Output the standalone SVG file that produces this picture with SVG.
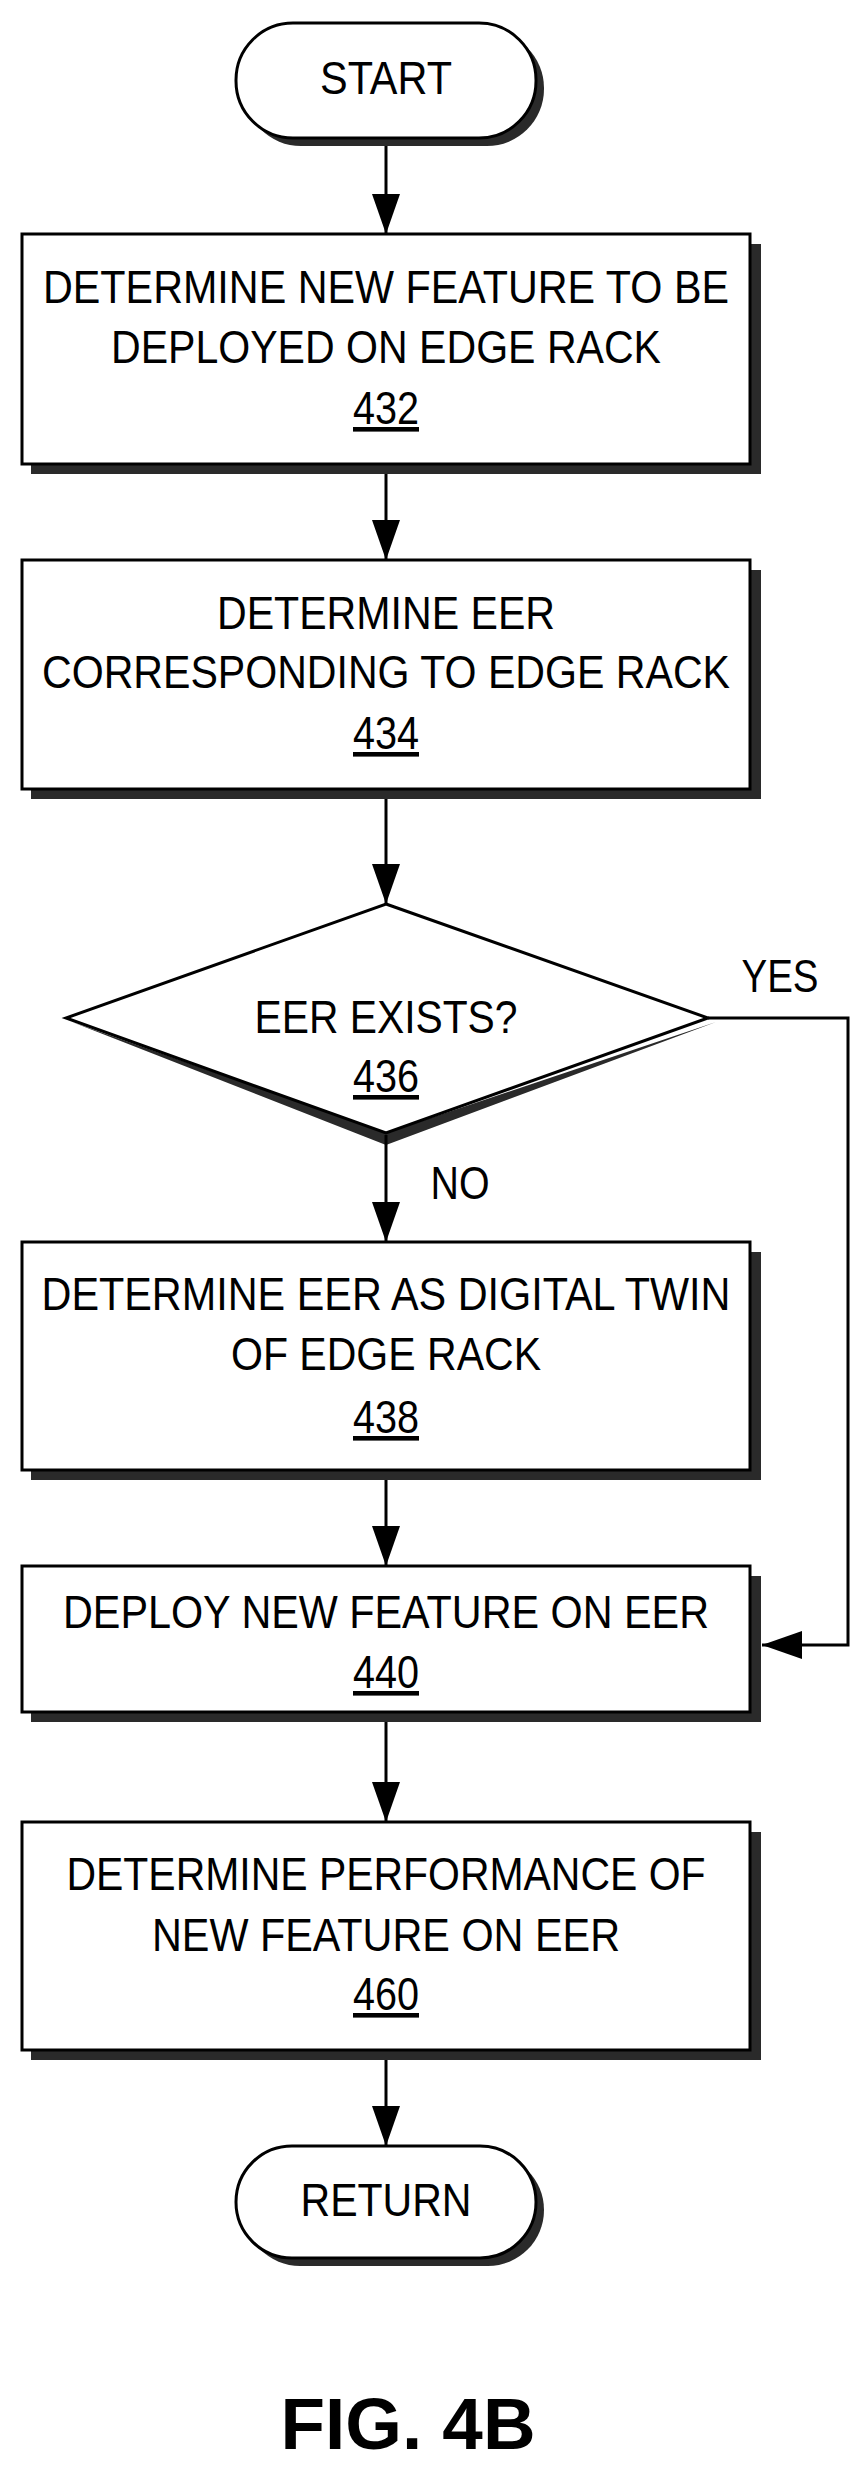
<svg xmlns="http://www.w3.org/2000/svg" width="866" height="2467" viewBox="0 0 866 2467">
<style>
.s{fill:#2a2a2a;stroke:none}
.b{fill:#fff;stroke:#000;stroke-width:3}
.t{font-family:"Liberation Sans",Arial,sans-serif;font-size:46px;fill:#000;text-anchor:middle}
.u{text-decoration:underline}
.c{fill:none;stroke:#000;stroke-width:3}
</style>
<defs>
<marker id="ar" markerWidth="40" markerHeight="28" refX="40" refY="14" orient="auto" markerUnits="userSpaceOnUse" viewBox="0 0 40 28"><path d="M0,0 L40,14 L0,28 Z" fill="#000"/></marker>
</defs>
<g id="start">
<rect class="s" x="244" y="31" width="300" height="115" rx="57"/>
<rect class="b" x="236" y="23" width="300" height="115" rx="57"/>
<text class="t" x="386" y="94" textLength="132" lengthAdjust="spacingAndGlyphs">START</text>
</g>
<g id="n432">
<rect class="s" x="31" y="244" width="730" height="230"/>
<rect class="b" x="22" y="234" width="728" height="230"/>
<text class="t" x="386" y="303" textLength="686" lengthAdjust="spacingAndGlyphs">DETERMINE NEW FEATURE TO BE</text>
<text class="t" x="386" y="363" textLength="550" lengthAdjust="spacingAndGlyphs">DEPLOYED ON EDGE RACK</text>
<text class="t u" x="386" y="424" textLength="66" lengthAdjust="spacingAndGlyphs">432</text>
</g>
<g id="n434">
<rect class="s" x="31" y="570" width="730" height="229"/>
<rect class="b" x="22" y="560" width="728" height="229"/>
<text class="t" x="386" y="629" textLength="338" lengthAdjust="spacingAndGlyphs">DETERMINE EER</text>
<text class="t" x="386" y="688" textLength="688" lengthAdjust="spacingAndGlyphs">CORRESPONDING TO EDGE RACK</text>
<text class="t u" x="386" y="749" textLength="66" lengthAdjust="spacingAndGlyphs">434</text>
</g>
<g id="n436">
<polygon class="s" points="72,1022 386,1145 716,1022 386,1133"/>
<polygon class="b" points="386,904 708,1018 386,1133 66,1018"/>
<text class="t" x="386" y="1033" textLength="263" lengthAdjust="spacingAndGlyphs">EER EXISTS?</text>
<text class="t u" x="386" y="1092" textLength="66" lengthAdjust="spacingAndGlyphs">436</text>
</g>
<g id="n438">
<rect class="s" x="31" y="1252" width="730" height="228"/>
<rect class="b" x="22" y="1242" width="728" height="228"/>
<text class="t" x="386" y="1310" textLength="689" lengthAdjust="spacingAndGlyphs">DETERMINE EER AS DIGITAL TWIN</text>
<text class="t" x="386" y="1370" textLength="310" lengthAdjust="spacingAndGlyphs">OF EDGE RACK</text>
<text class="t u" x="386" y="1433" textLength="66" lengthAdjust="spacingAndGlyphs">438</text>
</g>
<g id="n440">
<rect class="s" x="31" y="1576" width="730" height="146"/>
<rect class="b" x="22" y="1566" width="728" height="146"/>
<text class="t" x="386" y="1628" textLength="646" lengthAdjust="spacingAndGlyphs">DEPLOY NEW FEATURE ON EER</text>
<text class="t u" x="386" y="1688" textLength="66" lengthAdjust="spacingAndGlyphs">440</text>
</g>
<g id="n460">
<rect class="s" x="31" y="1832" width="730" height="228"/>
<rect class="b" x="22" y="1822" width="728" height="228"/>
<text class="t" x="386" y="1890" textLength="639" lengthAdjust="spacingAndGlyphs">DETERMINE PERFORMANCE OF</text>
<text class="t" x="386" y="1951" textLength="468" lengthAdjust="spacingAndGlyphs">NEW FEATURE ON EER</text>
<text class="t u" x="386" y="2010" textLength="66" lengthAdjust="spacingAndGlyphs">460</text>
</g>
<g id="return">
<rect class="s" x="244" y="2154" width="300" height="112" rx="56"/>
<rect class="b" x="236" y="2146" width="300" height="112" rx="56"/>
<text class="t" x="386" y="2216" textLength="171" lengthAdjust="spacingAndGlyphs">RETURN</text>
</g>
<g id="connectors">
<line class="c" x1="386" y1="146" x2="386" y2="234" marker-end="url(#ar)"/>
<line class="c" x1="386" y1="474" x2="386" y2="560" marker-end="url(#ar)"/>
<line class="c" x1="386" y1="799" x2="386" y2="904" marker-end="url(#ar)"/>
<line class="c" x1="386" y1="1135" x2="386" y2="1242" marker-end="url(#ar)"/>
<line class="c" x1="386" y1="1480" x2="386" y2="1566" marker-end="url(#ar)"/>
<line class="c" x1="386" y1="1722" x2="386" y2="1822" marker-end="url(#ar)"/>
<line class="c" x1="386" y1="2060" x2="386" y2="2146" marker-end="url(#ar)"/>
<polyline class="c" points="708,1018 848,1018 848,1645 762,1645" marker-end="url(#ar)"/>
<text class="t" x="780" y="992" textLength="77" lengthAdjust="spacingAndGlyphs">YES</text>
<text class="t" x="460" y="1199" textLength="59" lengthAdjust="spacingAndGlyphs">NO</text>
</g>
<text x="408" y="2449" font-family="Liberation Sans,Arial,sans-serif" font-weight="bold" font-size="72" text-anchor="middle" textLength="255" lengthAdjust="spacingAndGlyphs">FIG. 4B</text>
</svg>
